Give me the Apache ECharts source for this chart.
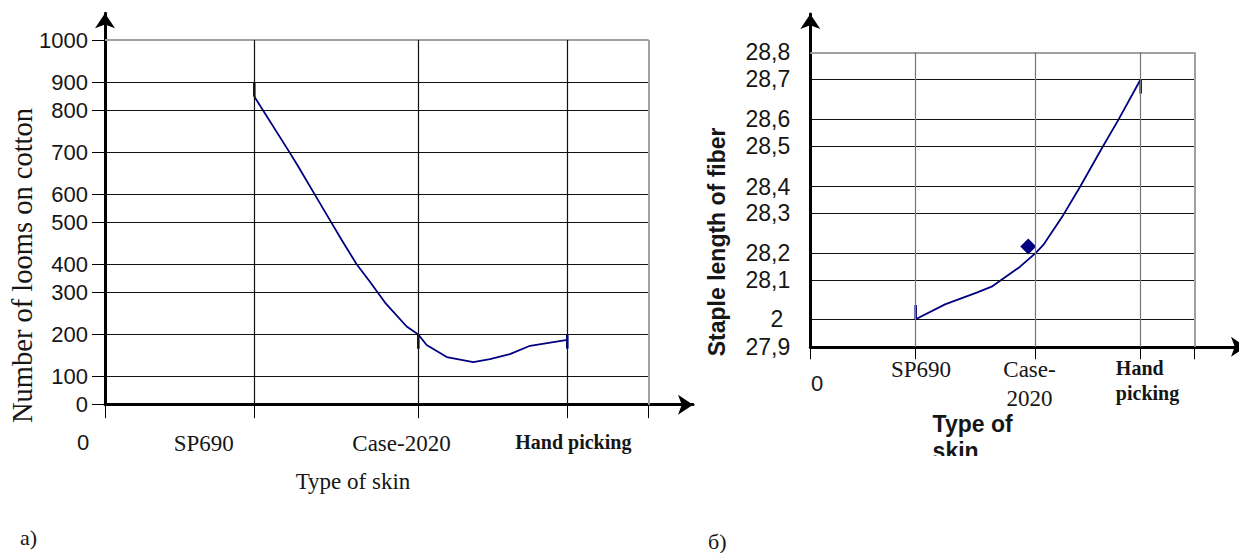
<!DOCTYPE html>
<html>
<head>
<meta charset="utf-8">
<title>Looms and staple length by type of skin</title>
<script src="https://cdn.jsdelivr.net/npm/echarts@6/dist/echarts.min.js"></script>
<style>
  html, body { margin: 0; padding: 0; background: #fff; }
  #wrap { position: relative; width: 1239px; height: 553px; overflow: hidden; }
  #chartA { position: absolute; left: 0; top: 0; width: 1239px; height: 553px; }
  /* the right panel is cut off at the bottom in the original, so its box stops at 456px */
  #chartB { position: absolute; left: 690px; top: 0; width: 549px; height: 456px; }
</style>
</head>
<body>
<div id="wrap">
  <div id="chartA"></div>
  <div id="chartB"></div>
</div>
<script>
// ---------- data ----------
const skinTypes = ['SP690', 'Case-2020', 'Hand picking'];
const catIndex = [0, 1, 2, 3, 3.5]; // origin, the three skins, right edge of the plot

// a) number of looms on cotton
const loomTicks = [0, 100, 200, 300, 400, 500, 600, 700, 800, 900, 1000];
const loomX = [1, 1.218, 1.268, 1.37, 1.472, 1.533, 1.624, 1.705, 1.797, 1.929, 2, 2.056, 2.191, 2.369, 2.481, 2.615, 2.75, 3];
const loomY = [849, 698, 666, 598, 498, 458, 400, 338, 276, 219, 200, 175, 146, 134, 141, 153, 173, 187];
const loomMarks = [0, 10, 17]; // points carrying the dash marker

// b) staple length of fiber
const stapleTicks = [27.9, 28.0, 28.1, 28.2, 28.3, 28.4, 28.5, 28.6, 28.7, 28.8];
const stapleTickLabels = ['27,9', '2', '28,1', '28,2', '28,3', '28,4', '28,5', '28,6', '28,7', '28,8'];
const stapleX = [1, 1.245, 1.51, 1.635, 1.873, 2, 2.076, 2.266, 2.425, 2.63, 2.788, 3];
const stapleY = [28.0, 28.038, 28.068, 28.083, 28.15, 28.2, 28.221, 28.296, 28.4, 28.494, 28.598, 28.7];
const stapleMarks = [0, 11];
const staplePoint = [1.941, 28.217];

// ---------- uneven scales of the original (pixels from the origin) ----------
const loomTickPos = [0, 28.4, 70.2, 112.2, 140.4, 182.4, 210.4, 252.4, 294.4, 322.4, 364.7];
const loomCatPos = [0, 149.3, 313.3, 462.3, 543.7];
const stapleTickPos = [0, 27.5, 66.8, 93.5, 133.5, 160.1, 200.8, 227.5, 267.5, 294.5];
const stapleCatPos = [0, 105.4, 225, 330.4, 384];

const sans = '"Liberation Sans", Arial, sans-serif';
const serif = '"Liberation Serif", "Times New Roman", serif';
const navy = '#000080';
const ink = '#161616';

const warp = (v, vals, pos) => {
  for (let i = 1; i < vals.length; i++) {
    if (v <= vals[i] || i === vals.length - 1) {
      const t = (v - vals[i - 1]) / (vals[i] - vals[i - 1]);
      return pos[i - 1] + t * (pos[i] - pos[i - 1]);
    }
  }
};
const nearest = (arr, v) => arr.reduce((b, a, i) => Math.abs(a - v) < Math.abs(arr[b] - v) ? i : b, 0);

const toA = (x, y) => [warp(x, catIndex, loomCatPos), warp(y, loomTicks, loomTickPos)];
const toB = (x, y) => [warp(x, catIndex, stapleCatPos), warp(y, stapleTicks, stapleTickPos)];

const gridLines = (tickPos, catPos, hColor, vColor) => {
  const top = tickPos[tickPos.length - 1];
  const right = catPos[catPos.length - 1];
  const edge = { color: '#a0a0a0', width: 2, type: 'solid' };
  const lines = [];
  tickPos.slice(1).forEach((y, i) => {
    const last = i === tickPos.length - 2;
    lines.push([{ coord: [0, y], lineStyle: last ? edge : { color: hColor, width: 1, type: 'solid' } }, { coord: [right, y] }]);
  });
  catPos.slice(1).forEach((x, i) => {
    const last = i === catPos.length - 2;
    lines.push([{ coord: [x, 0], lineStyle: last ? edge : { color: vColor, width: 1.2, type: 'solid' } }, { coord: [x, top] }]);
  });
  return lines;
};

const markLineBase = (data) => ({
  silent: true,
  symbol: ['none', 'none'],
  label: { show: false },
  emphasis: { disabled: true },
  animation: false,
  data: data
});

// ---------- a) ----------
const loomLabelPos = [0, 98.7, 296.5, 468.3];
const chartA = echarts.init(document.getElementById('chartA'), null, { renderer: 'svg' });
chartA.setOption({
  animation: false,
  title: [
    { text: 'a)', left: 15, top: 521, padding: 5, textStyle: { fontFamily: serif, fontSize: 22, fontWeight: 'normal', color: ink } },
    { text: 'б)', left: 703, top: 525, padding: 5, textStyle: { fontFamily: serif, fontSize: 22, fontWeight: 'normal', color: ink } }
  ],
  grid: { left: 105, top: 13.3, width: 588, height: 391.4, containLabel: false, outerBoundsMode: 'none' },
  xAxis: {
    type: 'value', min: 0, max: 588,
    axisLine: { lineStyle: { color: '#000', width: 3 }, symbol: ['none', 'arrow'], symbolSize: [15, 15] },
    axisTick: { show: true, length: 13.5, customValues: loomCatPos, lineStyle: { color: '#000', width: 1 } },
    axisLabel: {
      customValues: loomLabelPos, margin: 27, color: ink,
      formatter: (v) => {
        const i = nearest(loomLabelPos, v);
        if (i === 0) return '{z|0}';
        if (i === 3) return `{b|${skinTypes[2]}}`;
        return `{s|${skinTypes[i - 1]}}`;
      },
      rich: {
        z: { fontFamily: sans, fontSize: 22, color: ink, padding: [0, 44, 0, 0] },
        s: { fontFamily: serif, fontSize: 23, color: ink },
        b: { fontFamily: serif, fontSize: 20, fontWeight: 'bold', color: ink }
      }
    },
    splitLine: { show: false },
    name: 'Type of skin', nameLocation: 'middle', nameGap: 65, nameMoveOverlap: false,
    nameTextStyle: { fontFamily: serif, fontSize: 23, color: ink, padding: [0, 92, 0, 0] }
  },
  yAxis: {
    type: 'value', min: 0, max: 391.4,
    axisLine: { lineStyle: { color: '#000', width: 3 }, symbol: ['none', 'arrow'], symbolSize: [15, 15] },
    axisTick: { show: true, length: 13, customValues: loomTickPos, lineStyle: { color: '#000', width: 1 } },
    axisLabel: {
      customValues: loomTickPos, margin: 17, fontFamily: sans, fontSize: 22, color: ink,
      formatter: (v) => String(loomTicks[nearest(loomTickPos, v)])
    },
    splitLine: { show: false },
    name: 'Number of looms on cotton', nameLocation: 'middle', nameGap: 68, nameRotate: 90, nameMoveOverlap: false,
    nameTextStyle: { fontFamily: serif, fontSize: 28.5, color: ink, padding: [0, 113, 0, 0] }
  },
  series: [
    {
      type: 'line',
      data: loomX.map((x, i) => toA(x, loomY[i])),
      symbol: 'none',
      lineStyle: { color: navy, width: 1.8 },
      z: 3,
      markLine: markLineBase(gridLines(loomTickPos, loomCatPos, '#111', '#111'))
    },
    {
      type: 'scatter',
      symbol: 'rect',
      symbolSize: [2.5, 14.5],
      itemStyle: { color: navy, opacity: 1 },
      z: 4,
      data: loomMarks.map((i, k) => ({ value: toA(loomX[i], loomY[i]), symbolOffset: [0, [-7.2, 7, 1.5][k]] }))
    }
  ]
});

// ---------- b) ----------
const stapleLabelPos = [6.7, 110.7, 219.2, 337.2];
const chartB = echarts.init(document.getElementById('chartB'), null, { renderer: 'svg' });
chartB.setOption({
  animation: false,
  grid: { left: 120.3, top: 14, width: 435.7, height: 332.8, containLabel: false, outerBoundsMode: 'none' },
  xAxis: {
    type: 'value', min: 0, max: 435.7,
    axisLine: { lineStyle: { color: '#000', width: 3 }, symbol: ['none', 'arrow'], symbolSize: [15, 15] },
    axisTick: { show: true, length: 12.5, customValues: stapleCatPos, lineStyle: { color: '#000', width: 1 } },
    axisLabel: {
      customValues: stapleLabelPos, margin: 8, color: ink,
      formatter: (v) => {
        const i = nearest(stapleLabelPos, v);
        if (i === 0) return '{z|0}';
        if (i === 3) return skinTypes[2].split(' ').map((w) => `{b|${w}}`).join('\n');
        return skinTypes[i - 1].replace('-', '-\n').split('\n').map((w) => `{s|${w}}`).join('\n');
      },
      rich: {
        z: { fontFamily: sans, fontSize: 22, color: ink, padding: [18, 0, 0, 0] },
        s: { fontFamily: serif, fontSize: 23, lineHeight: 29, color: ink },
        b: { fontFamily: serif, fontSize: 20, fontWeight: 'bold', lineHeight: 25, color: ink, align: 'left', padding: [2, 0, 0, 0] }
      }
    },
    splitLine: { show: false },
    name: '{t|Type of}\n{t|skin}', nameLocation: 'middle', nameGap: 64, nameMoveOverlap: false,
    nameTextStyle: {
      padding: [0, 111, 0, 0],
      rich: { t: { fontFamily: sans, fontSize: 23, fontWeight: 'bold', lineHeight: 27, color: ink, align: 'left' } }
    }
  },
  yAxis: {
    type: 'value', min: 0, max: 332.8,
    axisLine: { lineStyle: { color: '#000', width: 3 }, symbol: ['none', 'arrow'], symbolSize: [15, 15] },
    axisTick: { show: false },
    axisLabel: {
      customValues: stapleTickPos, margin: 20, color: ink,
      formatter: (v) => {
        const t = stapleTickLabels[nearest(stapleTickPos, v)];
        return t.length === 1 ? `{p|${t}}` : `{n|${t}}`;
      },
      rich: {
        n: { fontFamily: sans, fontSize: 23, color: ink },
        p: { fontFamily: sans, fontSize: 23, color: ink, padding: [0, 7, 0, 0] }
      }
    },
    splitLine: { show: false },
    name: 'Staple length of fiber', nameLocation: 'middle', nameGap: 82, nameRotate: 90, nameMoveOverlap: false,
    nameTextStyle: { fontFamily: sans, fontSize: 23, fontWeight: 'bold', color: ink, padding: [0, 123, 0, 0] }
  },
  series: [
    {
      type: 'line',
      data: stapleX.map((x, i) => toB(x, stapleY[i])),
      symbol: 'none',
      lineStyle: { color: navy, width: 1.8 },
      z: 3,
      markLine: markLineBase(gridLines(stapleTickPos, stapleCatPos, '#111', '#777'))
    },
    {
      type: 'scatter',
      symbol: 'rect',
      symbolSize: [2.5, 14.5],
      itemStyle: { color: navy, opacity: 1 },
      z: 4,
      data: stapleMarks.map((i, k) => ({ value: toB(stapleX[i], stapleY[i]), symbolOffset: [0, [-7, 7][k]] }))
    },
    {
      type: 'scatter',
      symbol: 'diamond',
      symbolSize: 16,
      itemStyle: { color: navy, opacity: 1 },
      z: 4,
      data: [toB(staplePoint[0], staplePoint[1])]
    }
  ]
});
</script>
</body>
</html>
